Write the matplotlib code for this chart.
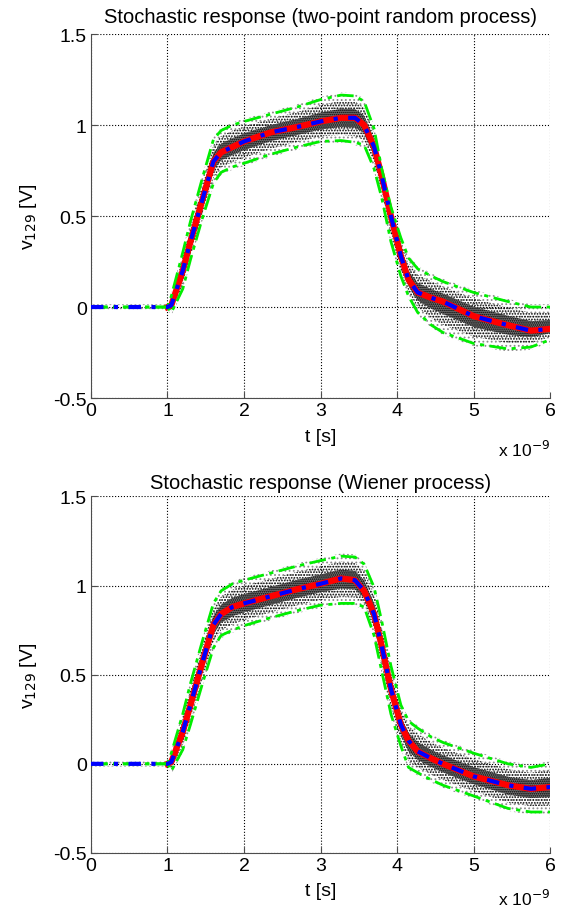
import numpy as np
import matplotlib
matplotlib.use('Agg')
import matplotlib.pyplot as plt
from matplotlib.ticker import FormatStrFormatter

plt.rcParams['font.family'] = ['Liberation Sans', 'DejaVu Sans']
plt.rcParams['axes.unicode_minus'] = False
plt.rcParams['hatch.linewidth'] = 0.8

# time axis in ns (shown as x 10^-9 s)
t = [0, 1.0, 1.05, 1.2, 1.3, 1.45, 1.6, 1.7, 1.85, 2.0, 2.35, 2.7, 3.0, 3.27,
     3.45, 3.57, 3.7, 3.8, 3.92, 4.05, 4.15, 4.27, 4.45, 4.6, 5.0, 5.45, 5.75, 6.0]

# two-point random process
mean_tp = [0, 0, 0.01, 0.2, 0.36, 0.58, 0.8, 0.85, 0.88, 0.91, 0.96, 0.99, 1.02, 1.04,
           1.04, 1.0, 0.88, 0.72, 0.5, 0.28, 0.15, 0.08, 0.05, 0.03, -0.05, -0.10, -0.13, -0.12]
upper_tp = [0, 0, 0.06, 0.3, 0.47, 0.7, 0.92, 0.97, 1.0, 1.02, 1.06, 1.1, 1.14, 1.165,
            1.16, 1.13, 0.98, 0.76, 0.55, 0.38, 0.27, 0.21, 0.17, 0.14, 0.08, 0.03, 0.0, 0.0]
lower_tp = [0, 0, -0.03, 0.1, 0.26, 0.48, 0.68, 0.74, 0.77, 0.79, 0.84, 0.88, 0.91, 0.915,
            0.905, 0.89, 0.76, 0.6, 0.36, 0.17, 0.06, -0.03, -0.1, -0.14, -0.2, -0.23, -0.22, -0.18]

# Wiener process
mean_w = [0, 0, 0.01, 0.18, 0.33, 0.56, 0.78, 0.84, 0.88, 0.90, 0.94, 0.98, 1.01, 1.04,
          1.03, 0.97, 0.84, 0.66, 0.42, 0.22, 0.13, 0.07, 0.03, 0.0, -0.07, -0.12, -0.14, -0.13]
upper_w = [0, 0, 0.06, 0.28, 0.45, 0.68, 0.9, 0.97, 1.01, 1.03, 1.07, 1.11, 1.14, 1.165,
           1.16, 1.12, 0.99, 0.8, 0.55, 0.33, 0.24, 0.2, 0.15, 0.12, 0.06, 0.0, -0.02, 0.0]
lower_w = [0, 0, -0.04, 0.08, 0.22, 0.44, 0.65, 0.72, 0.75, 0.775, 0.82, 0.86, 0.89, 0.9,
           0.9, 0.88, 0.72, 0.52, 0.28, 0.1, -0.02, -0.05, -0.09, -0.12, -0.18, -0.25, -0.27, -0.27]

titles = ['Stochastic response (two-point random process)',
          'Stochastic response (Wiener process)']

fig = plt.figure(figsize=(5.64, 9.12), dpi=100)
ax1 = fig.add_axes([0.1613, 0.5625, 0.814, 0.399])
ax2 = fig.add_axes([0.1613, 0.0636, 0.814, 0.391])

t_arr = np.array(t)
for ax, m, up, lo, ttl, tpad, ex_y in [(ax1, mean_tp, upper_tp, lower_tp, titles[0], 9, -0.16),
                                       (ax2, mean_w, upper_w, lower_w, titles[1], 6, -0.145)]:
    m = np.array(m); up = np.array(up); lo = np.array(lo)
    # sample cloud: sparse grey outer band, denser black towards the mean
    ax.fill_between(t_arr, lo - 0.015, up + 0.015, facecolor='none', edgecolor='0.55',
                    hatch='....', linewidth=0, zorder=1)
    ax.fill_between(t_arr, m - 0.75 * (m - lo), m + 0.75 * (up - m), facecolor='none',
                    edgecolor='k', hatch='......', linewidth=0, zorder=2)
    ax.fill_between(t_arr, m - 0.4 * (m - lo), m + 0.4 * (up - m), facecolor='0.45',
                    edgecolor='k', hatch='........', linewidth=0, zorder=2)
    on = t_arr >= 1.0
    ax.plot(t_arr[on], m[on], color='red', lw=4.5, zorder=3)
    ax.plot(t_arr, up, color='#00ee00', lw=2, ls=(0, (6, 2, 1.5, 2)), zorder=4)
    ax.plot(t_arr, lo, color='#00ee00', lw=2, ls=(0, (6, 2, 1.5, 2)), zorder=4)
    ax.plot(t_arr, m, color='blue', lw=3, ls=(0, (3, 2.5, 1, 2.5)), zorder=5)

    ax.set_xlim(0, 6)
    ax.set_ylim(-0.5, 1.5)
    ax.set_xticks(range(7))
    ax.set_yticks([-0.5, 0, 0.5, 1, 1.5])
    ax.yaxis.set_major_formatter(FormatStrFormatter('%g'))
    ax.grid(True, color='k', ls=':', lw=0.8)
    ax.spines['top'].set_visible(False)
    ax.spines['right'].set_visible(False)
    ax.spines['left'].set_color('0.3')
    ax.spines['bottom'].set_color('0.3')
    ax.tick_params(direction='in', labelsize=14, length=4, pad=3, color='0.3')
    ax.set_title(ttl, fontsize=14.5, pad=tpad)
    ax.set_xlabel('t [s]', fontsize=14, labelpad=6)
    ax.set_ylabel('v$_{129}$ [V]', fontsize=14, labelpad=10)
    ax.text(1.0, ex_y, 'x 10$^{-9}$', transform=ax.transAxes, ha='right',
            va='baseline', fontsize=12.5)

fig.savefig('out.png', dpi=100)
